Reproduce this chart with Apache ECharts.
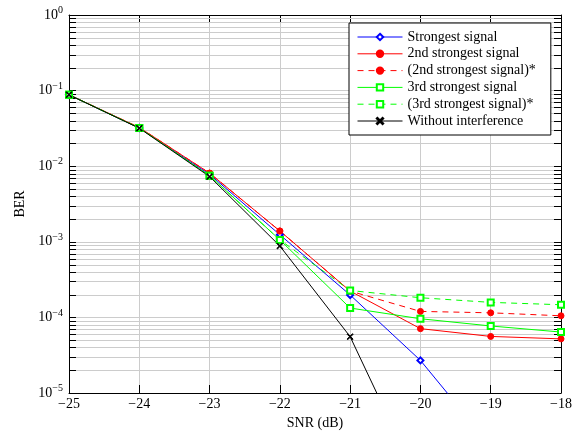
<!DOCTYPE html>
<html><head><meta charset="utf-8">
<script src="https://cdn.jsdelivr.net/npm/echarts@6/dist/echarts.min.js"></script>
<style>html,body{margin:0;padding:0;background:#fff}#c{width:575px;height:432px}</style>
</head><body><div id="c"></div>
<script>
const snr = [-25, -24, -23, -22, -21, -20, -19, -18];
const strongest = [0.088, 0.032, 0.0078, 0.00124, 0.000198, 0.000027, 0.000002, 0.0000001];
const second = [0.088, 0.0325, 0.0081, 0.00139, 0.000223, 0.000071, 0.000056, 0.000052];
const secondStar = [0.088, 0.0325, 0.0081, 0.00139, 0.000223, 0.000120, 0.000115, 0.000105];
const third = [0.088, 0.032, 0.0075, 0.00106, 0.000133, 0.000096, 0.000077, 0.000064];
const thirdStar = [0.088, 0.032, 0.0075, 0.00106, 0.000227, 0.000182, 0.000158, 0.000147];
const noInterf = [0.088, 0.0318, 0.0073, 0.00088, 0.0000556, 0.0000006, 0.00000001, 0.0000000001];
const names = ['Strongest signal', '2nd strongest signal', '(2nd strongest signal)*', '3rd strongest signal', '(3rd strongest signal)*', 'Without interference'];
const yMin = 1e-5, yMax = 1;
const minorVals = [];
for (let e = -5; e < 0; e++) for (let m = 2; m <= 9; m++) minorVals.push(m * Math.pow(10, e));

const FONT = 'Liberation Serif';
function expLabel(v) {
  const e = Math.round(Math.log10(v));
  return '{b|10}{s|' + (e < 0 ? '−' + (-e) : e) + '}';
}
const pair = a => snr.map((x, i) => [x, a[i]]);
const crossPath = 'path://M0,1L1,0L5,4L9,0L10,1L6,5L10,9L9,10L5,6L1,10L0,9L4,5Z';

function mk(name, data, color, symbol, size, dashed) {
  return {
    name, type: 'line', data: pair(data), symbol, symbolSize: size,
    showSymbol: true, clip: true, z: 5,
    lineStyle: {color, width: 1, type: dashed ? [6, 5] : 'solid'},
    itemStyle: {color: color, borderColor: color, borderWidth: 1},
    emphasis: {disabled: true}, animation: false
  };
}

const chart = echarts.init(document.getElementById('c'), null, {renderer: 'canvas'});
const axisFont = {fontFamily: FONT, fontSize: 14, color: '#000'};
chart.setOption({
  animation: false,
  backgroundColor: '#fff',
  grid: {left: 69, right: 14, top: 15, bottom: 39, containLabel: false, outerBoundsMode: 'none'},
  legend: {
    data: names, orient: 'vertical', left: 349, top: 23,
    backgroundColor: '#fff', borderColor: '#000', borderWidth: 1,
    padding: [7, 15, 7, 8], itemWidth: 45, itemHeight: 8, itemGap: 2.8,
    lineStyle: {width: 1},
    textStyle: {fontFamily: FONT, fontSize: 14, lineHeight: 12, color: '#000'},
    selectedMode: false
  },
  xAxis: [{
    type: 'value', min: -25, max: -18, interval: 1,
    name: 'SNR (dB)', nameLocation: 'middle', nameGap: 23,
    nameTextStyle: {fontFamily: FONT, fontSize: 14, color: '#000'},
    axisLine: {lineStyle: {color: '#000', width: 1}},
    axisTick: {inside: true, length: 8, lineStyle: {color: '#000'}},
    axisLabel: Object.assign({formatter: v => (v < 0 ? '−' + (-v) : '' + v), margin: 4}, axisFont),
    splitLine: {show: true, lineStyle: {color: '#cccccc', width: 1}}
  }, {
    type: 'value', min: -25, max: -18, interval: 1, position: 'top',
    axisLine: {lineStyle: {color: '#000'}},
    axisTick: {inside: true, length: 8, lineStyle: {color: '#000'}},
    axisLabel: {show: false}, splitLine: {show: false}
  }],
  yAxis: [{
    type: 'log', logBase: 10, min: yMin, max: yMax,
    name: 'BER', nameLocation: 'middle', nameGap: 37, nameRotate: 90,
    nameTextStyle: {fontFamily: FONT, fontSize: 14, color: '#000'},
    axisLine: {lineStyle: {color: '#000', width: 1}},
    axisTick: {inside: true, length: 7, lineStyle: {color: '#000'}},
    axisLabel: {formatter: expLabel, margin: 6, rich: {
      b: {fontFamily: FONT, fontSize: 14, color: '#000'},
      s: {fontFamily: FONT, fontSize: 10, color: '#000', verticalAlign: 'bottom', padding: [0, 0, 9, 0]}
    }},
    splitLine: {show: true, lineStyle: {color: '#cccccc', width: 1}}
  }, {
    type: 'log', logBase: 10, min: yMin, max: yMax, position: 'right',
    axisLine: {lineStyle: {color: '#000'}},
    axisTick: {inside: true, length: 7, lineStyle: {color: '#000'}},
    axisLabel: {show: false}, splitLine: {show: false}
  }],
  series: [
    {
      type: 'custom', name: 'minorGrid', z: 1, silent: true, clip: false,
      data: minorVals.map(v => [-25, v]),
      renderItem: function (params, api) {
        const cs = params.coordSys;
        const y = Math.round(api.coord([-25, api.value(1)])[1]) + 0.5;
        return {type: 'group', children: [
          {type: 'line', shape: {x1: cs.x, y1: y, x2: cs.x + cs.width, y2: y}, style: {stroke: '#cccccc', lineWidth: 1}},
          {type: 'line', z2: 10, shape: {x1: cs.x, y1: y, x2: cs.x + 7, y2: y}, style: {stroke: '#000', lineWidth: 1}},
          {type: 'line', z2: 10, shape: {x1: cs.x + cs.width - 7, y1: y, x2: cs.x + cs.width, y2: y}, style: {stroke: '#000', lineWidth: 1}}
        ]};
      }
    },
    mk(names[0], strongest, '#0000ff', 'emptyDiamond', 6, false),
    mk(names[1], second, '#ff0000', 'circle', 6, false),
    mk(names[2], secondStar, '#ff0000', 'circle', 6, true),
    mk(names[3], third, '#00ff00', 'emptyRect', 6, false),
    mk(names[4], thirdStar, '#00ff00', 'emptyRect', 6, true),
    mk(names[5], noInterf, '#000000', crossPath, 6, false)
  ]
});
</script></body></html>
